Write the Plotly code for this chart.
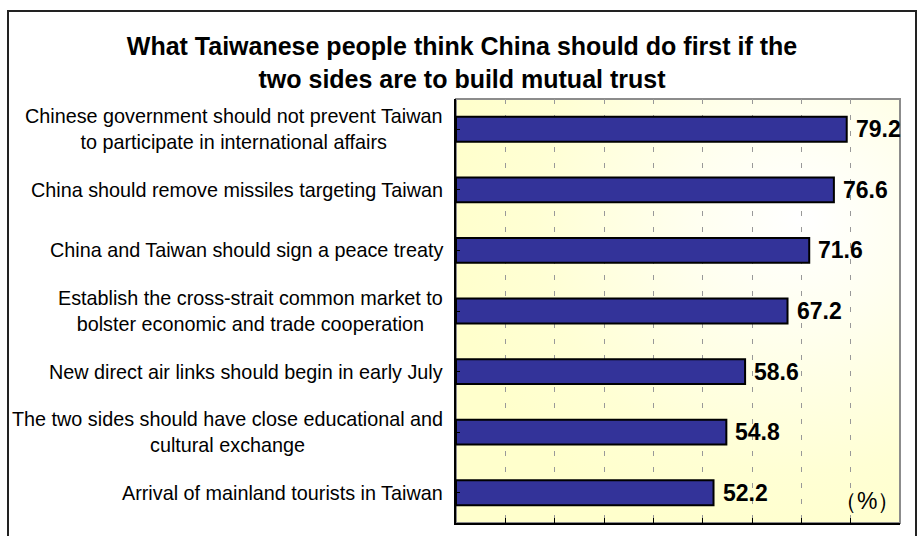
import base64
import plotly.graph_objects as go

categories = [
    "Chinese government should not prevent Taiwan<br>to participate in international affairs",
    "China should remove missiles targeting Taiwan",
    "China and Taiwan should sign a peace treaty",
    "Establish the cross-strait common market to<br>bolster economic and trade cooperation",
    "New direct air links should begin in early July",
    "The two sides should have close educational and<br>cultural exchange",
    "Arrival of mainland tourists in Taiwan",
]
values = [79.2, 76.6, 71.6, 67.2, 58.6, 54.8, 52.2]
value_labels = ["79.2", "76.6", "71.6", "67.2", "58.6", "54.8", "52.2"]
title_text = ("What Taiwanese people think China should do first if the<br>"
              "two sides are to build mutual trust")
unit_text = "（%）"

FONT = "Liberation Sans, Arial, sans-serif"

fig = go.Figure()
fig.add_trace(go.Bar(
    x=values, y=list(range(len(categories))), orientation="h",
    marker=dict(color="#333399", line=dict(color="#000000", width=2)),
    width=0.41, hoverinfo="skip",
))

# value labels
for i, (v, t) in enumerate(zip(values, value_labels)):
    fig.add_annotation(x=v, y=i, xref="x", yref="y", text=f"<b>{t}</b>",
                       showarrow=False, xanchor="left", yanchor="middle",
                       xshift=7, font=dict(family=FONT, size=23, color="#000000"))

# category labels
for i, c in enumerate(categories):
    fig.add_annotation(x=0, y=i, xref="paper", yref="y", text=c,
                       showarrow=False, xanchor="right", yanchor="middle",
                       align="center", xshift=-11,
                       font=dict(family=FONT, size=19.8, color="#000000"))

fig.add_annotation(x=0.925, y=0.052, xref="paper", yref="paper", text=unit_text,
                   showarrow=False, xanchor="center", yanchor="middle",
                   font=dict(family=FONT, size=23, color="#000000"))

svg = """<svg xmlns='http://www.w3.org/2000/svg' width='444' height='424' preserveAspectRatio='none'>
<defs><radialGradient id='g' cx='0.78' cy='0.28' r='0.8' fx='0.78' fy='0.28'>
<stop offset='0' stop-color='#FFFFFF'/><stop offset='0.3' stop-color='#FFFFF0'/>
<stop offset='0.75' stop-color='#FFFFD4'/>
<stop offset='1' stop-color='#FFFFCC'/></radialGradient></defs>
<rect width='444' height='424' fill='url(#g)'/></svg>"""
src = "data:image/svg+xml;base64," + base64.b64encode(svg.encode()).decode()
fig.add_layout_image(source=src, xref="paper", yref="paper", x=0, y=1,
                     sizex=1, sizey=1, sizing="stretch", layer="below",
                     xanchor="left", yanchor="top")

# plot area frame (gray top/right)
fig.add_shape(type="rect", xref="paper", yref="paper", x0=0, x1=1, y0=0, y1=1,
              line=dict(color="#8c8c8c", width=2), layer="below")
# figure border
fig.add_shape(type="rect", xref="paper", yref="paper",
              xsizemode="pixel", ysizemode="pixel", xanchor=0, yanchor=0,
              x0=-448, x1=460, y0=-14, y1=512,
              line=dict(color="#222222", width=2))

fig.update_layout(
    width=922, height=536,
    margin=dict(l=456, r=22, t=99, b=13),
    paper_bgcolor="#FFFFFF", plot_bgcolor="#FFFFCC",
    showlegend=False,
    title=dict(text=f"<b>{title_text}</b>", x=462 / 922, xref="container", xanchor="center",
               y=1 - 55 / 536, yanchor="middle", yref="container",
               font=dict(family=FONT, size=25, color="#000000")),
    font=dict(family=FONT, color="#000000"),
    bargap=0.59,
)
fig.update_xaxes(range=[0, 90], dtick=10, showticklabels=False,
                 showgrid=True, gridcolor="#999999", griddash="5px,11px", gridwidth=1,
                 ticks="inside", ticklen=5, tickcolor="#000000",
                 showline=True, linecolor="#000000", linewidth=2, zeroline=False,
                 fixedrange=True)
fig.update_yaxes(range=[6.5, -0.5], tickmode="array", tickvals=list(range(len(categories))),
                 showticklabels=False, ticks="inside", ticklen=4, tickcolor="#000000",
                 tickson="boundaries", showgrid=False,
                 showline=True, linecolor="#000000", linewidth=2, zeroline=False,
                 fixedrange=True)

fig.write_html("out.html")
